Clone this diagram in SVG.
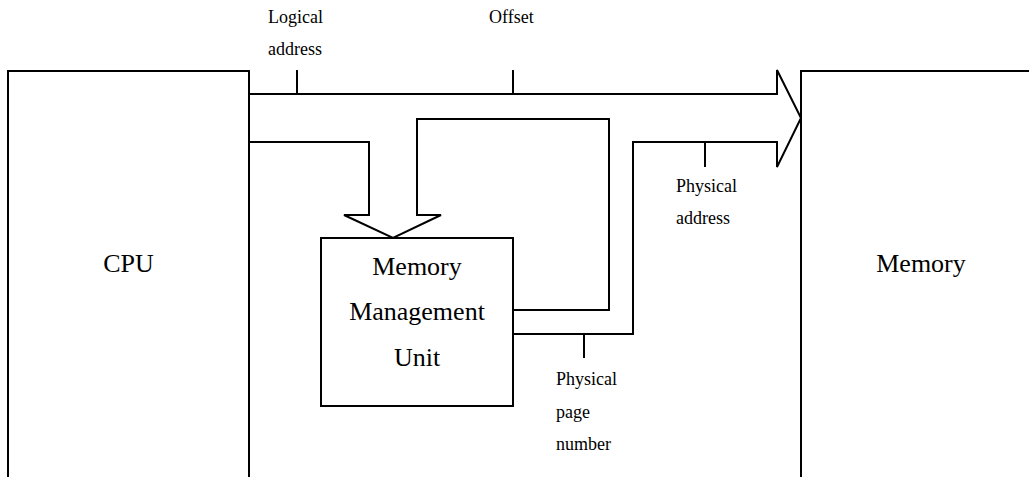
<svg xmlns="http://www.w3.org/2000/svg" width="1029" height="477" viewBox="0 0 1029 477">
<style>
.box{fill:#fff;stroke:#000;stroke-width:2}
.ln{fill:none;stroke:#000;stroke-width:2;stroke-linejoin:miter}
.big{font-family:"Liberation Serif","Times New Roman",serif;font-size:26px;fill:#000;text-anchor:middle}
.sm{font-family:"Liberation Serif","Times New Roman",serif;font-size:18px;fill:#000}
</style>
<rect width="1029" height="477" fill="#fff"/>
<g id="cpu">
<rect class="box" x="8" y="71" width="241" height="430"/>
<text class="big" x="128.5" y="272">CPU</text>
</g>
<g id="memory">
<rect class="box" x="801" y="71" width="241" height="430"/>
<text class="big" x="921" y="272">Memory</text>
</g>
<g id="mmu">
<rect class="box" x="321" y="238" width="192" height="168"/>
<text class="big" x="417" y="275">Memory</text>
<text class="big" x="417" y="320">Management</text>
<text class="big" x="417" y="366">Unit</text>
</g>
<g id="connectors">
<path class="ln" d="M249,94 H777 V70 L801,118 L777,167 V142 H633 V334 H513"/>
<path class="ln" d="M513,310 H609 V119 H417 V215 H441 L393,238 L344,215 H369 V142 H249"/>
<path class="ln" d="M297,70 V94 M513,70 V94 M705,142 V167 M584,334 V358"/>
</g>
<g id="labels">
<text class="sm" x="268" y="23">Logical</text>
<text class="sm" x="268" y="55">address</text>
<text class="sm" x="489" y="23">Offset</text>
<text class="sm" x="676" y="192">Physical</text>
<text class="sm" x="676" y="224">address</text>
<text class="sm" x="556" y="385">Physical</text>
<text class="sm" x="556" y="418">page</text>
<text class="sm" x="556" y="450">number</text>
</g>
</svg>
